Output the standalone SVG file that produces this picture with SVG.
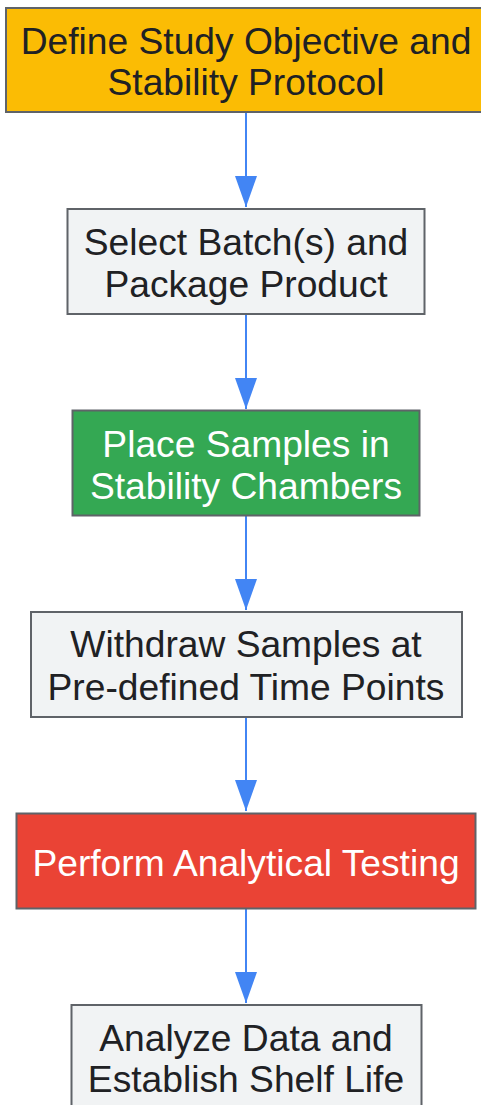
<svg xmlns="http://www.w3.org/2000/svg" width="481" height="1105" viewBox="0 0 481 1105">
<style>
.box{stroke:#5f6368;stroke-width:2}
.t{font-family:"Liberation Sans",Arial,sans-serif;font-size:37.2px;text-anchor:middle;fill:#202124}
.w{fill:#ffffff}
.edge{stroke:#4285f4;stroke-width:2;fill:none}
</style>
<defs>
<marker id="ah" viewBox="0 0 31 22" refX="31" refY="11" markerWidth="31" markerHeight="22" markerUnits="userSpaceOnUse" orient="auto">
<path d="M0,0 L31,11 L0,22 z" fill="#4285f4"/>
</marker>
</defs>
<rect width="481" height="1105" fill="#ffffff"/>
<g id="connectors">
<line class="edge" x1="246" y1="113" x2="246" y2="207" marker-end="url(#ah)"/>
<line class="edge" x1="246" y1="315" x2="246" y2="409" marker-end="url(#ah)"/>
<line class="edge" x1="246" y1="516" x2="246" y2="610" marker-end="url(#ah)"/>
<line class="edge" x1="246" y1="717" x2="246" y2="811" marker-end="url(#ah)"/>
<line class="edge" x1="246" y1="909" x2="246" y2="1003" marker-end="url(#ah)"/>
</g>
<g id="n1">
<rect class="box" x="6" y="8" width="480" height="104" fill="#fbbc04"/>
<text class="t" x="246" y="53.5">Define Study Objective and</text>
<text class="t" x="246" y="95">Stability Protocol</text>
</g>
<g id="n2">
<rect class="box" x="67.5" y="209" width="357" height="105" fill="#f1f3f4"/>
<text class="t" x="246" y="254.5">Select Batch(s) and</text>
<text class="t" x="246" y="296.5">Package Product</text>
</g>
<g id="n3">
<rect class="box" x="72.5" y="410.5" width="347" height="105" fill="#34a853"/>
<text class="t w" x="246" y="456.5">Place Samples in</text>
<text class="t w" x="246" y="499">Stability Chambers</text>
</g>
<g id="n4">
<rect class="box" x="31" y="612" width="431" height="105" fill="#f1f3f4"/>
<text class="t" x="246" y="657">Withdraw Samples at</text>
<text class="t" x="246" y="699.5">Pre-defined Time Points</text>
</g>
<g id="n5">
<rect class="box" x="16.5" y="813.5" width="459" height="95" fill="#ea4335"/>
<text class="t w" x="246" y="876">Perform Analytical Testing</text>
</g>
<g id="n6">
<rect class="box" x="71.5" y="1005" width="350" height="105" fill="#f1f3f4"/>
<text class="t" x="246" y="1051">Analyze Data and</text>
<text class="t" x="246" y="1092">Establish Shelf Life</text>
</g>
</svg>
